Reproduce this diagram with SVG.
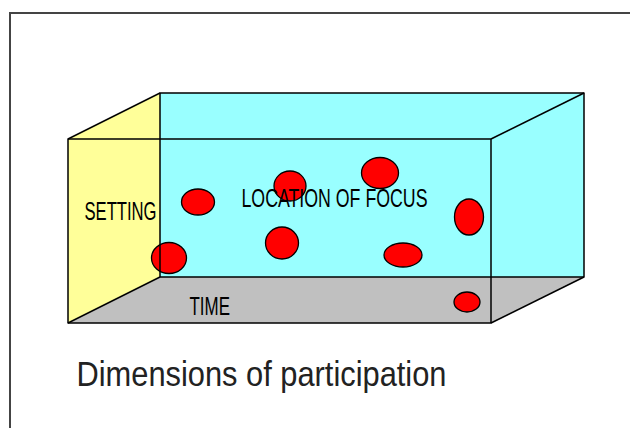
<svg xmlns="http://www.w3.org/2000/svg" width="630" height="428" viewBox="0 0 630 428">
<style>
.edge{fill:none;stroke:#000;stroke-width:1.5;stroke-linejoin:round}
.dot{fill:#FF0000;stroke:#000;stroke-width:1.3}
.lbl{font-family:"Liberation Sans",Arial,sans-serif;font-size:25px;fill:#000}
.cap{font-family:"Liberation Sans",Arial,sans-serif;font-size:35px;fill:#222}
</style>
<rect x="0" y="0" width="630" height="428" fill="#fff"/>
<path d="M10,430 L10,13 L632,13" fill="none" stroke="#444" stroke-width="2"/>
<g id="box">
  <polygon id="back" points="160,93 584,93 584,277 160,277" fill="#99FFFF"/>
  <polygon id="right" points="491,139 584,93 584,277 491,323" fill="#99FFFF"/>
  <polygon id="left" points="68,139 160,93 160,277 68,323" fill="#FFFF99"/>
  <polygon id="bottom" points="68,323 160,277 584,277 491,323" fill="#C0C0C0"/>
</g>
<g id="dots">
  <ellipse class="dot" cx="198" cy="202" rx="16.5" ry="13"/>
  <ellipse class="dot" cx="169" cy="258" rx="17.5" ry="15.5"/>
  <ellipse class="dot" cx="282" cy="243" rx="16.5" ry="16"/>
  <ellipse class="dot" cx="290" cy="186" rx="16" ry="15"/>
  <ellipse class="dot" cx="380" cy="173" rx="18.5" ry="15.5"/>
  <ellipse class="dot" cx="469" cy="217" rx="14.5" ry="18"/>
  <ellipse class="dot" cx="403" cy="255" rx="19" ry="12"/>
  <ellipse class="dot" cx="467" cy="302" rx="13" ry="10"/>
</g>
<g id="connectors">
  <polygon class="edge" points="160,93 584,93 584,277 160,277"/>
  <polygon class="edge" points="68,139 491,139 491,323 68,323"/>
  <line class="edge" x1="68" y1="139" x2="160" y2="93"/>
  <line class="edge" x1="491" y1="139" x2="584" y2="93"/>
  <line class="edge" x1="491" y1="323" x2="584" y2="277"/>
  <line class="edge" x1="68" y1="323" x2="160" y2="277"/>
</g>
<g id="labels">
  <text id="setting" class="lbl" x="84.5" y="219.5" textLength="72" lengthAdjust="spacingAndGlyphs">SETTING</text>
  <text id="location" class="lbl" x="241.5" y="207" textLength="186" lengthAdjust="spacingAndGlyphs">LOCATION OF FOCUS</text>
  <text id="time" class="lbl" x="189.5" y="314.5" textLength="40.5" lengthAdjust="spacingAndGlyphs">TIME</text>
</g>
<text id="caption" class="cap" x="76.5" y="386" textLength="370" lengthAdjust="spacingAndGlyphs">Dimensions of participation</text>
</svg>
